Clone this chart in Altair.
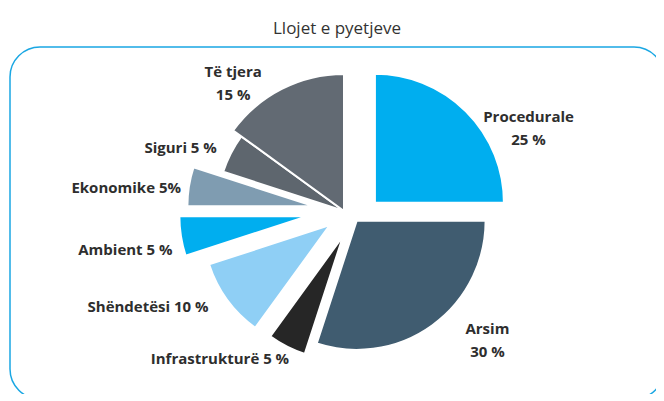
import altair as alt
import pandas as pd

# ---- data ----
categories = ["Procedurale", "Arsim", "Infrastrukturë", "Shëndetësi",
              "Ambient", "Ekonomike", "Siguri", "Të tjera"]
values = [25, 30, 5, 10, 5, 5, 5, 15]
labels = ["Procedurale\n25 %", "Arsim\n30 %", "Infrastrukturë 5 %",
          "Shëndetësi 10 %", "Ambient 5 %", "Ekonomike 5%", "Siguri 5 %",
          "Të tjera\n15 %"]
title_text = "Llojet e pyetjeve"

# ---- styles ----
colors = ["#00AEEF", "#405C70", "#262626", "#8FCFF5",
          "#00AEEF", "#7F9CB1", "#5E666E", "#626A73"]
slice_radius = [129, 129, 124, 127, 128, 126, 127, 137]   # px
explode_dist = [32, 16, 25, 20, 37, 31, 0, 0]             # px
explode_angle = [75, 128, 182, 225, 262, 279, 0, 0]       # deg, clockwise from top
label_dist = [202, 193, 193, 218, 222, 219, 175, 169]     # px
label_angle = [66, 132, 220, 244, 260, 276, 291, 319]     # deg
LINE_H = 23

df = pd.DataFrame({
    "category": categories,
    "value": values,
    "label": labels,
    "r": slice_radius,
    "ed": explode_dist,
    "ea": explode_angle,
    "ld": label_dist,
    "la": label_angle,
})
df["end"] = df["value"].cumsum()
df["start"] = df["end"] - df["value"]

W, H = 654, 352
xs = alt.Scale(domain=[-334, 320], nice=False, zero=False)
ys = alt.Scale(domain=[-188, 164], nice=False, zero=False)

base = alt.Chart(df).transform_calculate(
    ex="datum.ed * sin(datum.ea * PI / 180)",
    ey="datum.ed * cos(datum.ea * PI / 180)",
    nl="length(split(datum.label, '\\n'))",
).transform_calculate(
    lx="datum.ld * sin(datum.la * PI / 180)",
    ly=f"datum.ld * cos(datum.la * PI / 180) + (datum.nl - 1) * {LINE_H} / 2",
)

arcs = base.mark_arc(stroke="white", strokeWidth=2).encode(
    x=alt.X("ex:Q", scale=xs, axis=None),
    y=alt.Y("ey:Q", scale=ys, axis=None),
    theta=alt.Theta("start:Q", stack=None,
                    scale=alt.Scale(domain=[0, 100], range=[0, 6.283185307179586])),
    theta2="end:Q",
    radius=alt.Radius("r:Q", scale=None),
    color=alt.Color("category:N", scale=alt.Scale(domain=categories, range=colors),
                    legend=None),
)

texts = base.mark_text(font="Open Sans", fontSize=15, fontWeight="bold",
                       color="#2E2E2E", lineBreak="\n", lineHeight=LINE_H,
                       align="center", baseline="middle").encode(
    x=alt.X("lx:Q", scale=xs, axis=None),
    y=alt.Y("ly:Q", scale=ys, axis=None),
    text="label:N",
)

chart = alt.layer(arcs, texts).properties(
    width=W, height=H,
    padding={"left": 2, "top": 39, "right": -8, "bottom": -5},
    autosize=alt.AutoSizeParams(type="none"),
    title=alt.TitleParams(title_text, font="Open Sans", fontSize=17,
                          fontWeight="normal", color="#333333",
                          anchor="middle", offset=9),
).configure_view(
    stroke="#1AA7E3", strokeWidth=1.5, cornerRadius=30, fill="white"
)

chart.save("out.html", embed_options={"renderer": "svg", "actions": False})
